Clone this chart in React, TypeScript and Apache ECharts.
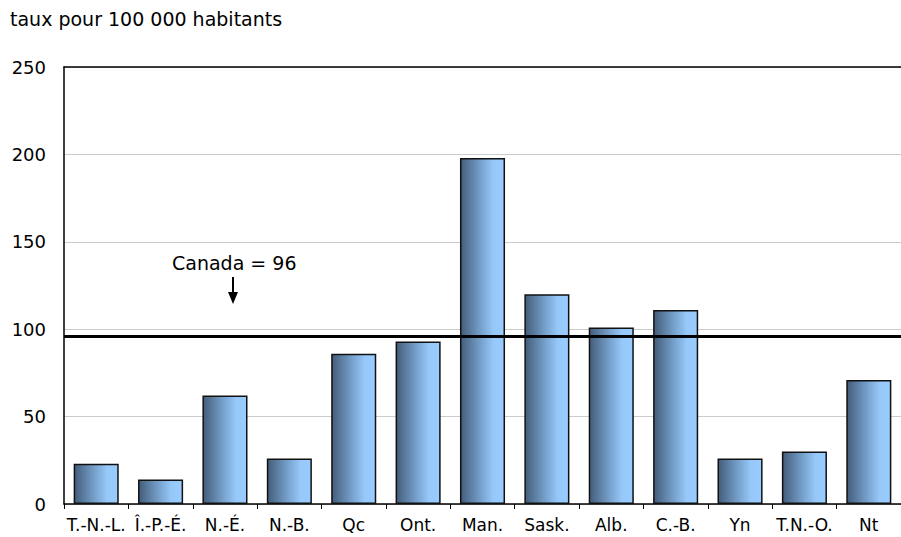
import React, { useEffect, useRef } from "react";
import * as echarts from "echarts";

const categories = ["T.-N.-L.", "Î.-P.-É.", "N.-É.", "N.-B.", "Qc", "Ont.", "Man.", "Sask.", "Alb.", "C.-B.", "Yn", "T.N.-O.", "Nt"];
const rates = [23, 14, 62, 26, 86, 93, 198, 120, 101, 111, 26, 30, 71];
const canadaRate = 96;
const yTicks = [0, 50, 100, 150, 200, 250];
const unitLabel = "taux pour 100 000 habitants";
const canadaLabel = "Canada = 96";

export default function App() {
  const ref = useRef<HTMLDivElement>(null);
  useEffect(() => {
    if (!ref.current) return;
    const chart = echarts.init(ref.current, null, { renderer: "svg" });
    const font = "DejaVu Sans";
    chart.setOption({
      animation: false,
      backgroundColor: "#ffffff",
      textStyle: { fontFamily: font },
      grid: { left: 64, top: 67, width: 843, height: 437, containLabel: false },
      xAxis: [
        {
          type: "category",
          data: categories,
          axisLine: { lineStyle: { color: "#000", width: 1.5 } },
          axisTick: { show: true, length: 5, lineStyle: { color: "#000" } },
          axisLabel: { color: "#000", fontSize: 17, fontFamily: font, margin: 12, interval: 0 },
        },
        {
          type: "category",
          position: "top",
          data: categories,
          axisLine: { show: true, lineStyle: { color: "#000", width: 1.5 } },
          axisTick: { show: false },
          axisLabel: { show: false },
        },
      ],
      yAxis: {
        type: "value",
        min: yTicks[0],
        max: yTicks[yTicks.length - 1],
        interval: 50,
        axisLine: { show: true, lineStyle: { color: "#000", width: 1.5 } },
        axisTick: { show: false },
        axisLabel: { color: "#000", fontSize: 18, fontFamily: font, margin: 18 },
        splitLine: { show: true, lineStyle: { color: "#cccccc", width: 1 } },
      },
      graphic: [
        { type: "text", left: 10, top: 9, style: { text: unitLabel, fill: "#000", font: `19px "${font}"` } },
        { type: "text", left: 172, top: 253, style: { text: canadaLabel, fill: "#000", font: `19px "${font}"` } },
        { type: "line", shape: { x1: 233, y1: 277, x2: 233, y2: 294 }, style: { stroke: "#000", lineWidth: 2 } },
        { type: "polygon", shape: { points: [[228, 292], [238, 292], [233, 304]] }, style: { fill: "#000" } },
      ],
      series: [
        {
          type: "bar",
          data: rates,
          barCategoryGap: "30%",
          itemStyle: {
            color: new echarts.graphic.LinearGradient(0, 0, 1, 0, [
              { offset: 0, color: "#445d7a" },
              { offset: 0.5, color: "#7aa6d2" },
              { offset: 0.75, color: "#96c8fa" },
              { offset: 1, color: "#99ccff" },
            ]),
            borderColor: "#111",
            borderWidth: 1.5,
          },
          markLine: {
            silent: true,
            symbol: "none",
            label: { show: false },
            lineStyle: { color: "#000", width: 3, type: "solid" },
            data: [{ yAxis: canadaRate }],
          },
        },
      ],
    });
    return () => chart.dispose();
  }, []);
  return <div ref={ref} style={{ position: "absolute", left: 0, top: 0, width: 901, height: 537 }} />;
}
